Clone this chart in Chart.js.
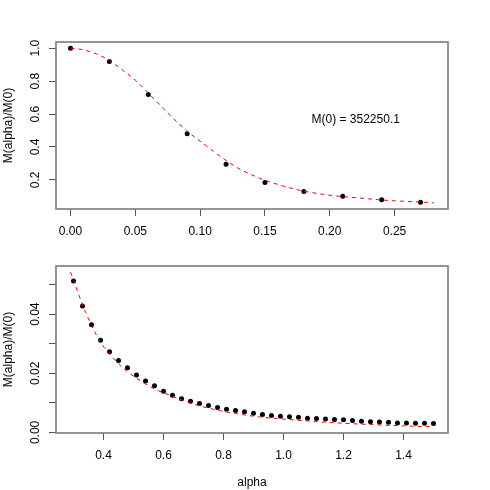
<!DOCTYPE html>
<html>
<head>
<meta charset="utf-8">
<script src="https://cdn.jsdelivr.net/npm/chart.js@4.4.1/dist/chart.umd.min.js"></script>
<style>
body { margin: 0; background: #fff; }
canvas { display: block; }
</style>
</head>
<body>
<canvas id="topChart" width="490" height="245"></canvas>
<canvas id="bottomChart" width="490" height="245"></canvas>
<script>
// upper panel (small alpha)
const alphaTop = [0, 0.03, 0.06, 0.09, 0.12, 0.15, 0.18, 0.21, 0.24, 0.27];
const ratioTop = [1.0, 0.919, 0.719, 0.481, 0.295, 0.184, 0.129, 0.101, 0.079, 0.064];
const fitAlphaTop = [0, 0.01, 0.02, 0.03, 0.04, 0.05, 0.06, 0.07, 0.08, 0.09, 0.10, 0.11, 0.12, 0.13, 0.14,
    0.15, 0.16, 0.17, 0.18, 0.19, 0.20, 0.21, 0.22, 0.23, 0.24, 0.25, 0.26, 0.27, 0.28];
const fitTop = [1.0, 0.99, 0.965, 0.925, 0.868, 0.805, 0.727, 0.646, 0.568, 0.495, 0.435, 0.375, 0.318, 0.268, 0.230,
    0.198, 0.172, 0.150, 0.132, 0.118, 0.107, 0.099, 0.092, 0.085, 0.078, 0.073, 0.069, 0.066, 0.061];
const xTicksTop = [0, 0.05, 0.10, 0.15, 0.20, 0.25];
const xLabelsTop = ['0.00', '0.05', '0.10', '0.15', '0.20', '0.25'];
const yTicksTop = [0.2, 0.4, 0.6, 0.8, 1.0];
const yLabelsTop = ['0.2', '0.4', '0.6', '0.8', '1.0'];

// lower panel (large alpha)
const alphaBottom = [0.30, 0.33, 0.36, 0.39, 0.42, 0.45, 0.48, 0.51, 0.54, 0.57, 0.60, 0.63, 0.66, 0.69,
    0.72, 0.75, 0.78, 0.81, 0.84, 0.87, 0.90, 0.93, 0.96, 0.99, 1.02, 1.05, 1.08, 1.11, 1.14, 1.17,
    1.20, 1.23, 1.26, 1.29, 1.32, 1.35, 1.38, 1.41, 1.44, 1.47, 1.50];
const ratioBottom = [0.0512, 0.0428, 0.0364, 0.0312, 0.0273, 0.0243, 0.0219, 0.0194, 0.0174, 0.0158, 0.0139, 0.0126, 0.0114, 0.0105,
    0.0098, 0.0091, 0.0084, 0.0078, 0.0074, 0.0070, 0.0065, 0.0061, 0.0057, 0.0055, 0.0053, 0.0051, 0.0048, 0.0047, 0.0045, 0.0044,
    0.0043, 0.0040, 0.0038, 0.0036, 0.0035, 0.0034, 0.0032, 0.0032, 0.0031, 0.0031, 0.0030];
const fitAlphaBottom = [0.29, 0.30, 0.33, 0.36, 0.39, 0.42, 0.45, 0.48, 0.51, 0.54, 0.57, 0.60, 0.63, 0.66, 0.69,
    0.72, 0.75, 0.78, 0.81, 0.84, 0.87, 0.90, 0.95, 1.00, 1.10, 1.20, 1.30, 1.40, 1.50];
const fitBottom = [0.0542, 0.0515, 0.0432, 0.0362, 0.0305, 0.0265, 0.0232, 0.0205, 0.0183, 0.0164, 0.0147, 0.0134, 0.0122, 0.0110, 0.0099,
    0.0090, 0.0082, 0.0075, 0.0069, 0.0064, 0.0059, 0.0055, 0.0049, 0.0045, 0.0037, 0.0031, 0.0026, 0.0022, 0.0019];
const xTicksBottom = [0.4, 0.6, 0.8, 1.0, 1.2, 1.4];
const xLabelsBottom = ['0.4', '0.6', '0.8', '1.0', '1.2', '1.4'];
const yTicksBottom = [0, 0.01, 0.02, 0.03, 0.04, 0.05];
const yLabelsBottom = ['0.00', '', '0.02', '', '0.04', ''];

const yTitle = 'M(alpha)/M(0)';
const m0Note = 'M(0) = 352250.1';

Chart.defaults.font.family = "'Liberation Sans', Arial, sans-serif";
Chart.defaults.font.size = 12;
Chart.defaults.color = '#000';

function pairs(xs, ys) {
    return xs.map(function (x, i) { return { x: x, y: ys[i] }; });
}

// box round the plot, rotated y labels, optional note
const rFrame = {
    id: 'rFrame',
    afterDraw: function (chart, args, opts) {
        const ctx = chart.ctx;
        const area = chart.chartArea;
        const y = chart.scales.y;
        ctx.save();
        ctx.strokeStyle = '#7a7a7a';
        ctx.lineWidth = 1.6;
        ctx.strokeRect(Math.round(area.left), Math.round(area.top),
            Math.round(area.right - area.left), Math.round(area.bottom - area.top));

        ctx.fillStyle = '#000';
        ctx.font = "12px 'Liberation Sans', Arial, sans-serif";
        ctx.textAlign = 'center';
        ctx.textBaseline = 'middle';
        opts.yTicks.forEach(function (v, i) {
            const py = y.getPixelForValue(v);
            ctx.save();
            ctx.translate(36, py);
            ctx.rotate(-Math.PI / 2);
            ctx.fillText(opts.yLabels[i], 0, 0);
            ctx.restore();
        });

        if (opts.note) {
            const px = chart.scales.x.getPixelForValue(opts.note.x);
            const py = y.getPixelForValue(opts.note.y);
            ctx.fillText(opts.note.text, px, py);
        }
        ctx.restore();
    }
};

function makePanel(canvasId, p) {
    const ctx = document.getElementById(canvasId).getContext('2d');
    return new Chart(ctx, {
        type: 'scatter',
        data: {
            datasets: [{
                type: 'line',
                data: pairs(p.fitX, p.fitY),
                borderColor: 'red',
                borderWidth: 1,
                borderDash: [4, 4],
                pointRadius: 0,
                fill: false,
                cubicInterpolationMode: 'monotone',
                order: 0
            }, {
                data: pairs(p.x, p.y),
                backgroundColor: '#000',
                borderWidth: 0,
                pointRadius: 2.5,
                order: 1
            }]
        },
        options: {
            responsive: false,
            animation: false,
            devicePixelRatio: 1,
            layout: { padding: { top: p.padTop, right: 42, left: 0, bottom: 0 } },
            plugins: {
                legend: { display: false },
                tooltip: { enabled: false },
                rFrame: { yTicks: p.yTicks, yLabels: p.yLabels, note: p.note }
            },
            scales: {
                x: {
                    type: 'linear',
                    min: p.xMin,
                    max: p.xMax,
                    border: { display: false },
                    grid: { drawOnChartArea: false, drawTicks: true, tickLength: 7, color: '#555' },
                    ticks: {
                        padding: 8,
                        autoSkip: false,
                        maxRotation: 0,
                        callback: function (v, i) { return p.xLabels[i]; }
                    },
                    title: { display: !!p.xTitle, text: p.xTitle || '', padding: { top: 0, bottom: 0 } },
                    afterBuildTicks: function (scale) {
                        scale.ticks = p.xTicks.map(function (v) { return { value: v }; });
                    },
                    afterFit: function (scale) { scale.height = p.xHeight; }
                },
                y: {
                    type: 'linear',
                    min: p.yMin,
                    max: p.yMax,
                    border: { display: false },
                    grid: { drawOnChartArea: false, drawTicks: true, tickLength: 7, color: '#555' },
                    ticks: { display: false },
                    title: { display: true, text: yTitle, padding: { top: 1, bottom: 0 } },
                    afterBuildTicks: function (scale) {
                        scale.ticks = p.yTicks.map(function (v) { return { value: v }; });
                    },
                    afterFit: function (scale) { scale.width = 56; }
                }
            }
        },
        plugins: [rFrame]
    });
}

makePanel('topChart', {
    x: alphaTop, y: ratioTop, fitX: fitAlphaTop, fitY: fitTop,
    xTicks: xTicksTop, xLabels: xLabelsTop, yTicks: yTicksTop, yLabels: yLabelsTop,
    xMin: -0.0112, xMax: 0.2912, yMin: 0.0234, yMax: 1.0376,
    padTop: 42, xHeight: 36,
    note: { x: 0.22, y: 0.565, text: m0Note }
});

makePanel('bottomChart', {
    x: alphaBottom, y: ratioBottom, fitX: fitAlphaBottom, fitY: fitBottom,
    xTicks: xTicksBottom, xLabels: xLabelsBottom, yTicks: yTicksBottom, yLabels: yLabelsBottom,
    xMin: 0.2416, xMax: 1.5484, yMin: -0.0002, yMax: 0.0563,
    padTop: 21, xHeight: 57, xTitle: 'alpha'
});
</script>
</body>
</html>
